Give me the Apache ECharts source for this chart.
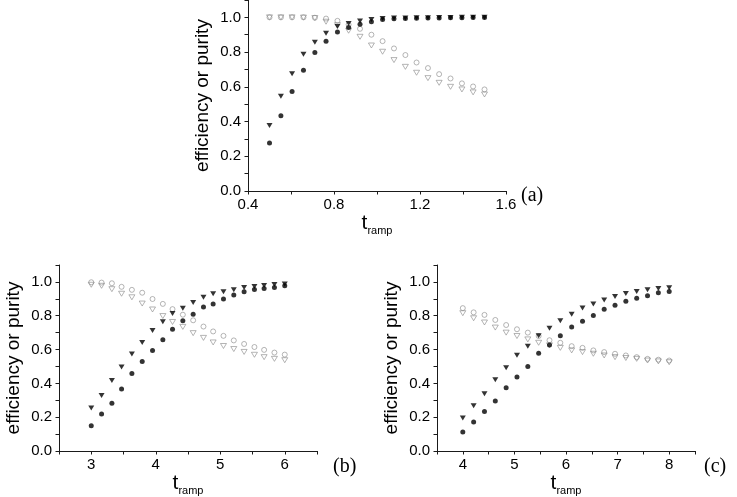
<!DOCTYPE html>
<html><head><meta charset="utf-8">
<script src="https://cdn.jsdelivr.net/npm/echarts@6/dist/echarts.min.js"></script>
<style>html,body{margin:0;padding:0;background:#fff}#c{width:737px;height:497px}</style>
</head><body><div id="c"></div>
<script>
// Panel (a)
const xA = [0.500,0.553,0.605,0.658,0.711,0.763,0.816,0.868,0.921,0.974,1.026,1.079,1.132,1.184,1.237,1.289,1.342,1.395,1.447,1.500];
const aEffCircle = [0.277,0.433,0.573,0.696,0.798,0.862,0.915,0.942,0.961,0.975,0.988,0.992,0.994,0.995,0.996,0.997,0.998,0.998,0.999,0.999];
const aEffTri    = [0.377,0.545,0.675,0.787,0.856,0.909,0.948,0.965,0.979,0.988,0.994,0.996,0.997,0.998,0.998,0.999,0.999,1.000,1.000,1.000];
const aPurCircle = [1.000,1.000,1.000,1.000,0.998,0.993,0.980,0.958,0.934,0.900,0.863,0.821,0.783,0.740,0.708,0.673,0.648,0.620,0.602,0.585];
const aPurTri    = [1.000,1.000,1.000,0.999,0.996,0.975,0.955,0.923,0.888,0.838,0.802,0.754,0.715,0.681,0.650,0.623,0.600,0.585,0.568,0.556];
// Panel (b)
const xB = [3.00,3.16,3.32,3.47,3.63,3.79,3.95,4.11,4.26,4.42,4.58,4.74,4.89,5.05,5.21,5.37,5.53,5.68,5.84,6.00];
const bEffCircle = [0.150,0.219,0.283,0.366,0.458,0.530,0.594,0.658,0.720,0.771,0.808,0.852,0.870,0.899,0.922,0.942,0.955,0.961,0.967,0.977];
const bEffTri    = [0.254,0.328,0.417,0.497,0.574,0.642,0.712,0.765,0.813,0.844,0.878,0.909,0.930,0.942,0.953,0.967,0.973,0.979,0.984,0.987];
const bPurCircle = [0.998,0.996,0.992,0.971,0.953,0.936,0.899,0.870,0.839,0.806,0.773,0.736,0.707,0.681,0.654,0.633,0.615,0.598,0.582,0.570];
const bPurTri    = [0.983,0.977,0.957,0.930,0.909,0.872,0.837,0.798,0.763,0.734,0.697,0.669,0.642,0.621,0.603,0.586,0.569,0.555,0.545,0.537];
// Panel (c)
const xC = [4.00,4.21,4.42,4.63,4.84,5.05,5.26,5.47,5.68,5.89,6.11,6.32,6.53,6.74,6.95,7.16,7.37,7.58,7.79,8.00];
const cEffCircle = [0.112,0.172,0.234,0.296,0.374,0.438,0.500,0.578,0.627,0.681,0.734,0.768,0.802,0.839,0.862,0.885,0.903,0.918,0.936,0.944];
const cEffTri    = [0.195,0.267,0.339,0.421,0.493,0.567,0.619,0.681,0.726,0.771,0.809,0.846,0.870,0.893,0.913,0.932,0.944,0.953,0.961,0.965];
const cPurCircle = [0.845,0.820,0.805,0.775,0.745,0.720,0.700,0.680,0.655,0.640,0.620,0.610,0.595,0.585,0.575,0.565,0.555,0.545,0.540,0.535];
const cPurTri    = [0.815,0.785,0.760,0.730,0.700,0.680,0.660,0.640,0.625,0.610,0.595,0.585,0.575,0.565,0.555,0.550,0.545,0.535,0.530,0.525];

const yLabel = "efficiency or purity";
const panelLabels = ["(a)", "(b)", "(c)"];

const SANS = "Liberation Sans, Arial, sans-serif";
const SERIF = "Liberation Serif, Times New Roman, serif";
const AX = '#1a1a1a';
const GRAY = '#8a8a8a';

function zip(xs, ys){ return xs.map((x,i)=>[x, ys[i]]); }

function xAxis(idx, min, max, labelEvery){
  return {
    type:'value', gridIndex: idx, min, max, interval: labelEvery/2,
    name: '{t|t}{s|ramp}', nameLocation:'middle', nameGap: 20,
    nameTextStyle:{ rich:{ t:{fontSize:21, fontFamily:SANS, color:'#000'}, s:{fontSize:11, fontFamily:SANS, color:'#000', padding:[14,0,0,0]} } },
    axisLine:{show:true, onZero:false, lineStyle:{color:AX, width:1}},
    axisTick:{show:true, inside:false, length:3.5, lineStyle:{color:AX}},
    axisLabel:{ fontSize:15, fontFamily:SANS, color:'#000', margin:6,
      formatter: v => { const k = Math.round(v/labelEvery*1000)/1000; return Number.isInteger(k) ? String(+v.toFixed(1)) : ''; } },
    splitLine:{show:false}
  };
}
function yAxis(idx){
  return {
    type:'value', gridIndex: idx, min:0, max:1.1, interval:0.1,
    name: yLabel, nameLocation:'middle', nameGap: 36, nameRotate: 90,
    nameTextStyle:{ fontSize:19, fontFamily:SANS, color:'#000' },
    axisLine:{show:true, onZero:false, lineStyle:{color:AX, width:1}},
    axisTick:{show:true, inside:false, length:3.5, lineStyle:{color:AX}},
    axisLabel:{ fontSize:15, fontFamily:SANS, color:'#000', margin:7,
      formatter: v => { const k = Math.round(v*10); return (k%2===0 && k<=10) ? v.toFixed(1) : ''; } },
    splitLine:{show:false}
  };
}
function fourSeries(idx, xs, effC, effT, purC, purT){
  const base = { type:'scatter', xAxisIndex: idx, yAxisIndex: idx, animation:false, silent:true };
  return [
    Object.assign({}, base, { name:'purity circle', data: zip(xs, purC), symbol:'circle', symbolSize:5,
      itemStyle:{ color:'rgba(0,0,0,0)', borderColor:GRAY, borderWidth:0.8 } }),
    Object.assign({}, base, { name:'purity triangle', data: zip(xs, purT), symbol:'triangle', symbolRotate:180, symbolSize:[6,5],
      itemStyle:{ color:'rgba(0,0,0,0)', borderColor:GRAY, borderWidth:0.8 } }),
    Object.assign({}, base, { name:'efficiency circle', data: zip(xs, effC), symbol:'circle', symbolSize:5,
      itemStyle:{ color:'#000' } }),
    Object.assign({}, base, { name:'efficiency triangle', data: zip(xs, effT), symbol:'triangle', symbolRotate:180, symbolSize:[6,5],
      itemStyle:{ color:'#000' } })
  ];
}

const chart = echarts.init(document.getElementById('c'), null, {renderer:'canvas'});
chart.setOption({
  backgroundColor:'#fff',
  animation:false,
  grid:[
    {left:248, top:0, width:258, height:191},
    {left:59, top:265, width:258, height:189},
    {left:437, top:265, width:258, height:189}
  ],
  xAxis:[ xAxis(0, 0.4, 1.6, 0.4), xAxis(1, 2.5, 6.5, 1), xAxis(2, 3.5, 8.5, 1) ],
  yAxis:[ yAxis(0), yAxis(1), yAxis(2) ],
  series:[].concat(
    fourSeries(0, xA, aEffCircle, aEffTri, aPurCircle, aPurTri),
    fourSeries(1, xB, bEffCircle, bEffTri, bPurCircle, bPurTri),
    fourSeries(2, xC, cEffCircle, cEffTri, cPurCircle, cPurTri)
  ),
  graphic:[
    {type:'text', left:521, top:186, style:{text:panelLabels[0], font:'20px '+SERIF, fill:'#000'}},
    {type:'text', left:333, top:457, style:{text:panelLabels[1], font:'20px '+SERIF, fill:'#000'}},
    {type:'text', left:704, top:457, style:{text:panelLabels[2], font:'20px '+SERIF, fill:'#000'}}
  ]
});
</script></body></html>
